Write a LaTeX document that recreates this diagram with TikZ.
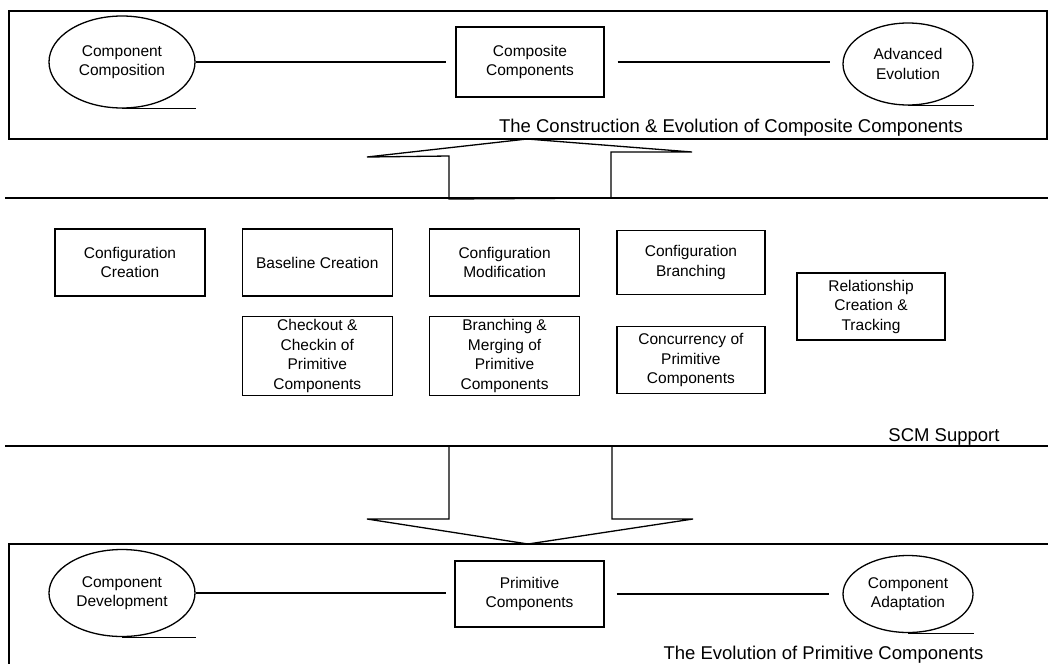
\documentclass[tikz,border=0pt]{standalone}
\usepackage{fontspec}
\setmainfont{Liberation Sans}
\usetikzlibrary{shapes.geometric,positioning}

\begin{document}
\begin{tikzpicture}[x=1pt,y=-1pt,
   every node/.style={font=\fontsize{15.5}{19.5}\selectfont,align=center},
   task/.style={draw,line width=1.3pt,minimum width=150pt,minimum height=67pt,inner sep=1pt},
   stage/.style={draw,ellipse,line width=1.3pt,inner sep=0pt},
   caption/.style={font=\fontsize{18.5}{22}\selectfont,anchor=base},
   wire/.style={line width=1.3pt},
   node distance=36pt]
\useasboundingbox (0,0) rectangle (1048,664);

% composite components
\draw[wire] (9,11) rectangle (1047,139);
\node[stage,minimum width=146pt,minimum height=92pt] (compose) at (122,62) {Component\\Composition};
\node[task,minimum width=148pt,minimum height=70pt] (composite) at (530,62) {Composite\\Components};
\node[stage,minimum width=130pt,minimum height=82pt] (advanced) at (908,64) {Advanced\\Evolution};
\draw[wire,shorten >=9pt] (compose.east) -- (compose.east -| composite.west);
\draw[wire,shorten <=13pt,shorten >=12pt] (composite.east) -- (composite.east -| advanced.west);
\draw[wire] (compose.south) -- (compose.south -| compose.east);
\draw[wire] (advanced.south) -- (advanced.south -| advanced.east);
\node[caption] (topcap) at (731,132) {The Construction \& Evolution of Composite Components};

% up arrow
\draw[wire] (367,157) -- (527,139) -- (692,152) -- (611,152) -- (611,198)
   -- (449,199) -- (449,156) -- cycle;
\draw[wire] (5,198) -- (1048,198);

% scm support
\node[task] (cfgcreate) at (130,262.5) {Configuration\\Creation};
\node[task,right=of cfgcreate] (baseline) {Baseline Creation};
\node[task,right=of baseline] (cfgmodify) {Configuration\\Modification};
\node[task,minimum width=148pt,minimum height=64pt,right=of cfgmodify] (cfgbranch) {Configuration\\Branching};
\node[task,minimum width=148pt] (relation) at (871,306.5) {Relationship\\Creation \&\\Tracking};
\node[task,minimum height=79pt,below=19pt of baseline] (checkout) {Checkout \&\\Checkin of\\Primitive\\Components};
\node[task,minimum height=79pt,below=19pt of cfgmodify] (merging) {Branching \&\\Merging of\\Primitive\\Components};
\node[task,minimum width=148pt,below=31pt of cfgbranch] (concur) {Concurrency of\\Primitive\\Components};
\node[caption] (scmcap) at (944,441) {SCM Support};
\draw[wire] (5,446) -- (1048,446);

% down arrow
\draw[wire] (449,447) -- (449,519) -- (367,519) -- (528,544) -- (693,519)
   -- (612,519) -- (612,447);

% primitive components
\draw[wire] (1048,544) -- (9,544) -- (9,664);
\node[stage,minimum width=146pt,minimum height=87pt] (develop) at (122,593) {Component\\Development};
\node[task,minimum width=149pt,minimum height=66pt] (primitive) at (529.5,594) {Primitive\\Components};
\node[stage,minimum width=130pt,minimum height=77pt] (adapt) at (908,594) {Component\\Adaptation};
\draw[wire,shorten >=8pt] (develop.east) -- (develop.east -| primitive.west);
\draw[wire,shorten <=12pt,shorten >=13pt] (primitive.east) -- (primitive.east -| adapt.west);
\draw[wire] (develop.south) -- (develop.south -| develop.east);
\draw[wire] (adapt.south) -- (adapt.south -| adapt.east);
\node[caption] (botcap) at (823.5,659) {The Evolution of Primitive Components};
\end{tikzpicture}
\end{document}
